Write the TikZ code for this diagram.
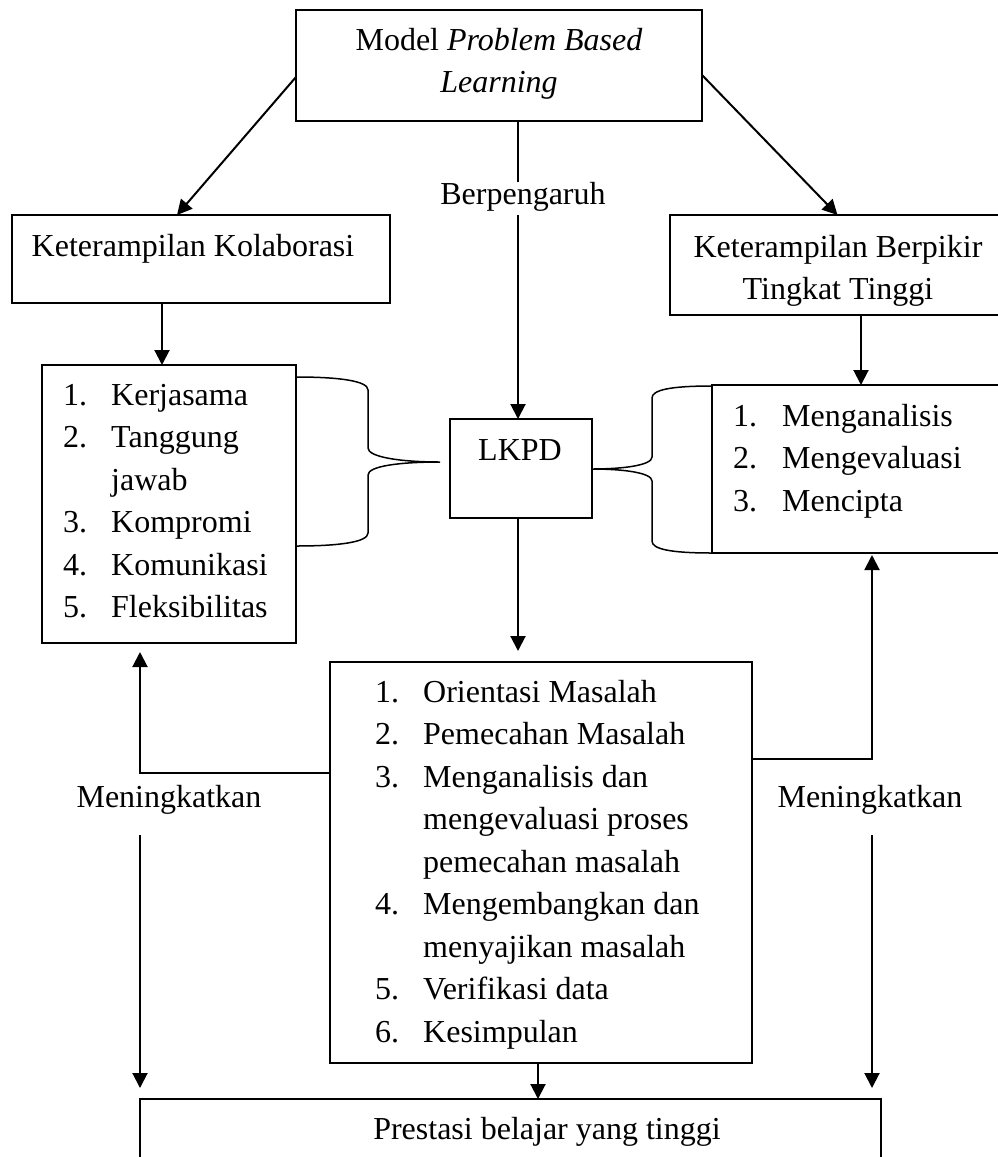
\documentclass[tikz,border=0pt]{standalone}
\usepackage{fontspec}
\setmainfont{Liberation Serif}
\usetikzlibrary{arrows.meta,calc}
\tikzset{
  boxn/.style={draw, line width=1.5pt, inner sep=0pt, outer sep=0pt, anchor=north west},
  txt/.style={inner sep=0pt, font=\fontsize{32}{40}\selectfont, anchor=base},
  itm/.style={inner sep=0pt, font=\fontsize{32}{40}\selectfont, anchor=base west},
  conn/.style={line width=2pt},
  arr/.style={line width=2pt, -{Triangle[length=15pt,width=15pt]}},
  bracel/.style={line width=1.5pt},
}
\begin{document}
\begin{tikzpicture}[x=1pt,y=-1pt]
\clip (0,0) rectangle (998,1157);
% boxes
\node[boxn, minimum width=406pt, minimum height=111pt] (T) at (296,10) {};
\node[boxn, minimum width=378pt, minimum height=88pt] (KK) at (12,215) {};
\node[boxn, minimum width=335pt, minimum height=100pt] (KB) at (670,215) {};
\node[boxn, minimum width=254pt, minimum height=278pt] (LL) at (42,365) {};
\node[boxn, minimum width=142pt, minimum height=99pt] (LK) at (450,419) {};
\node[boxn, minimum width=293pt, minimum height=168pt] (RL) at (712,385) {};
\node[boxn, minimum width=422pt, minimum height=401pt] (M) at (330,662) {};
\node[boxn, minimum width=741pt, minimum height=80pt] (B) at (140,1099) {};
% texts
\node[txt] (tT1) at (499,50) {Model \textit{Problem Based}};
\node[txt] (tT2) at (499,92) {\textit{Learning}};
\node[txt] (berp) at (523,204) {Berpengaruh};
\node[txt] (tKK) at (193,256) {Keterampilan Kolaborasi};
\node[txt] (tKB1) at (838,257) {Keterampilan Berpikir};
\node[txt] (tKB2) at (838,299) {Tingkat Tinggi};
\node[txt] (tLK) at (520,460) {LKPD};
\node[txt] (mL) at (169,807) {Meningkatkan};
\node[txt] (mR) at (870,807) {Meningkatkan};
\node[txt] (tB) at (547,1139) {Prestasi belajar yang tinggi};
% left list
\node[itm] (ln1) at (63,405) {1.};   \node[itm] (lt1) at (111,405) {Kerjasama};
\node[itm] (ln2) at (63,447.5) {2.}; \node[itm] (lt2) at (111,447.5) {Tanggung};
\node[itm] (lt2b) at (111,490) {jawab};
\node[itm] (ln3) at (63,532.5) {3.}; \node[itm] (lt3) at (111,532.5) {Kompromi};
\node[itm] (ln4) at (63,575) {4.};   \node[itm] (lt4) at (111,575) {Komunikasi};
\node[itm] (ln5) at (63,617.5) {5.}; \node[itm] (lt5) at (111,617.5) {Fleksibilitas};
% right list
\node[itm] (rn1) at (733,426) {1.};   \node[itm] (rt1) at (782,426) {Menganalisis};
\node[itm] (rn2) at (733,468.5) {2.}; \node[itm] (rt2) at (782,468.5) {Mengevaluasi};
\node[itm] (rn3) at (733,511) {3.};   \node[itm] (rt3) at (782,511) {Mencipta};
% middle list
\node[itm] (mn1) at (375,702) {1.};    \node[itm] (mt1) at (423,702) {Orientasi Masalah};
\node[itm] (mn2) at (375,744.5) {2.};  \node[itm] (mt2) at (423,744.5) {Pemecahan Masalah};
\node[itm] (mn3) at (375,787) {3.};    \node[itm] (mt3) at (423,787) {Menganalisis dan};
\node[itm] (mt3b) at (423,829.5) {mengevaluasi proses};
\node[itm] (mt3c) at (423,872) {pemecahan masalah};
\node[itm] (mn4) at (375,914.5) {4.};  \node[itm] (mt4) at (423,914.5) {Mengembangkan dan};
\node[itm] (mt4b) at (423,957) {menyajikan masalah};
\node[itm] (mn5) at (375,999.5) {5.};  \node[itm] (mt5) at (423,999.5) {Verifikasi data};
\node[itm] (mn6) at (375,1042) {6.};   \node[itm] (mt6) at (423,1042) {Kesimpulan};
% helper coordinates
\coordinate (vx) at (518,0);
\coordinate (lx) at (162,0);
\coordinate (rx) at (861,0);
\coordinate (bx) at (538,0);
\coordinate (llx) at (140,773);
\coordinate (rrx) at (872,759);
% connectors
\draw[arr] ([yshift=-11.5pt]T.west) -- ([xshift=-24pt]KK.north);
\draw[arr] ([yshift=-9.5pt]T.east) -- (KB.north);
\draw[conn] (T.south -| vx) -- (berp.north -| vx);
\draw[arr, shorten <=4pt] (berp.south -| vx) -- (LK.north -| vx);
\draw[arr, shorten >=11pt] (LK.south -| vx) -- (M.north -| vx);
\draw[arr] (KK.south -| lx) -- (LL.north -| lx);
\draw[arr] (KB.south -| rx) -- (RL.north -| rx);
\draw[arr, shorten >=9pt] (M.west |- llx) -- (llx) -- (llx |- LL.south);
\draw[arr, shorten <=21pt, shorten >=11pt] (llx |- mL.south) -- (llx |- B.north);
\draw[arr, shorten >=2pt] (M.east |- rrx) -- (rrx) -- (rrx |- RL.south);
\draw[arr, shorten <=21pt, shorten >=11pt] (rrx |- mR.south) -- (rrx |- B.north);
\draw[arr] (M.south -| bx) -- (B.north -| bx);
% braces
\draw[bracel] (296,377) .. controls (340,377) and (368,381) .. (368,390)
  -- (368,448) .. controls (368,457) and (400,462) .. (440,462)
  .. controls (400,462) and (368,466) .. (368,475)
  -- (368,533) .. controls (368,542) and (340,546) .. (296,546);
\draw[bracel] (712,386) .. controls (670,386) and (652,390) .. (652,398)
  -- (652,457) .. controls (652,465) and (625,469) .. (592,469)
  .. controls (625,469) and (652,473) .. (652,481)
  -- (652,541) .. controls (652,549) and (670,553) .. (712,553);
\end{tikzpicture}
\end{document}
